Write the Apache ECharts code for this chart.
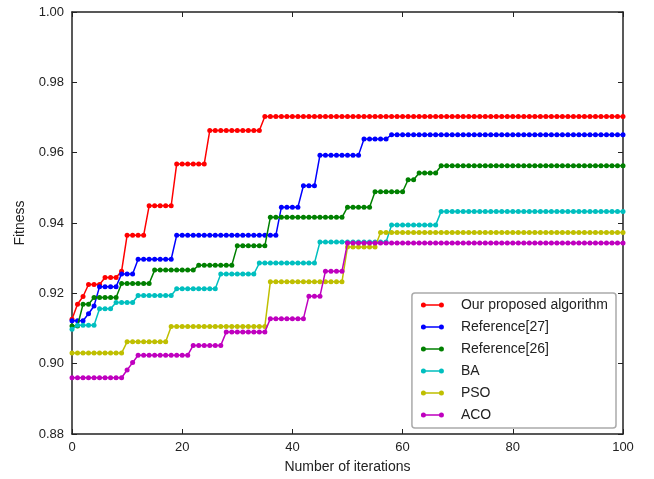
<!DOCTYPE html>
<html>
<head>
<meta charset="utf-8">
<script src="https://cdn.jsdelivr.net/npm/echarts@6/dist/echarts.min.js"></script>
<style>
html,body{margin:0;padding:0;background:#fff;}
#chart{width:654px;height:479px;}
</style>
</head>
<body>
<div id="chart"></div>
<script>
var seriesNames = ['Our proposed algorithm', 'Reference[27]', 'Reference[26]', 'BA', 'PSO', 'ACO'];
var xTicks = [0, 20, 40, 60, 80, 100];
var yTicks = [0.88, 0.90, 0.92, 0.94, 0.96, 0.98, 1.00];

var ours = [
0.9126,0.9169,0.9191,0.9225,0.9225,0.9225,0.9245,0.9245,0.9245,0.9263,
0.9365,0.9365,0.9365,0.9365,0.9449,0.9449,0.9449,0.9449,0.9449,0.9568,
0.9568,0.9568,0.9568,0.9568,0.9568,0.9663,0.9663,0.9663,0.9663,0.9663,
0.9663,0.9663,0.9663,0.9663,0.9663,0.9703,0.9703,0.9703,0.9703,0.9703,
0.9703,0.9703,0.9703,0.9703,0.9703,0.9703,0.9703,0.9703,0.9703,0.9703,
0.9703,0.9703,0.9703,0.9703,0.9703,0.9703,0.9703,0.9703,0.9703,0.9703,
0.9703,0.9703,0.9703,0.9703,0.9703,0.9703,0.9703,0.9703,0.9703,0.9703,
0.9703,0.9703,0.9703,0.9703,0.9703,0.9703,0.9703,0.9703,0.9703,0.9703,
0.9703,0.9703,0.9703,0.9703,0.9703,0.9703,0.9703,0.9703,0.9703,0.9703,
0.9703,0.9703,0.9703,0.9703,0.9703,0.9703,0.9703,0.9703,0.9703,0.9703,
0.9703];

var ref27 = [
0.9122,0.9122,0.9122,0.9142,0.9164,0.9219,0.9219,0.9219,0.9219,0.9255,
0.9255,0.9255,0.9297,0.9297,0.9297,0.9297,0.9297,0.9297,0.9297,0.9365,
0.9365,0.9365,0.9365,0.9365,0.9365,0.9365,0.9365,0.9365,0.9365,0.9365,
0.9365,0.9365,0.9365,0.9365,0.9365,0.9365,0.9365,0.9365,0.9445,0.9445,
0.9445,0.9445,0.9506,0.9506,0.9506,0.9593,0.9593,0.9593,0.9593,0.9593,
0.9593,0.9593,0.9593,0.9639,0.9639,0.9639,0.9639,0.9639,0.9651,0.9651,
0.9651,0.9651,0.9651,0.9651,0.9651,0.9651,0.9651,0.9651,0.9651,0.9651,
0.9651,0.9651,0.9651,0.9651,0.9651,0.9651,0.9651,0.9651,0.9651,0.9651,
0.9651,0.9651,0.9651,0.9651,0.9651,0.9651,0.9651,0.9651,0.9651,0.9651,
0.9651,0.9651,0.9651,0.9651,0.9651,0.9651,0.9651,0.9651,0.9651,0.9651,
0.9651];

var ref26 = [
0.9107,0.9107,0.9169,0.9169,0.9188,0.9188,0.9188,0.9188,0.9188,0.9228,
0.9228,0.9228,0.9228,0.9228,0.9228,0.9266,0.9266,0.9266,0.9266,0.9266,
0.9266,0.9266,0.9266,0.9280,0.9280,0.9280,0.9280,0.9280,0.9280,0.9280,
0.9335,0.9335,0.9335,0.9335,0.9335,0.9335,0.9416,0.9416,0.9416,0.9416,
0.9416,0.9416,0.9416,0.9416,0.9416,0.9416,0.9416,0.9416,0.9416,0.9416,
0.9445,0.9445,0.9445,0.9445,0.9445,0.9489,0.9489,0.9489,0.9489,0.9489,
0.9489,0.9523,0.9523,0.9542,0.9542,0.9542,0.9542,0.9563,0.9563,0.9563,
0.9563,0.9563,0.9563,0.9563,0.9563,0.9563,0.9563,0.9563,0.9563,0.9563,
0.9563,0.9563,0.9563,0.9563,0.9563,0.9563,0.9563,0.9563,0.9563,0.9563,
0.9563,0.9563,0.9563,0.9563,0.9563,0.9563,0.9563,0.9563,0.9563,0.9563,
0.9563];

var ba = [
0.9098,0.9109,0.9109,0.9109,0.9109,0.9156,0.9156,0.9156,0.9174,0.9174,
0.9174,0.9174,0.9194,0.9194,0.9194,0.9194,0.9194,0.9194,0.9194,0.9213,
0.9213,0.9213,0.9213,0.9213,0.9213,0.9213,0.9213,0.9255,0.9255,0.9255,
0.9255,0.9255,0.9255,0.9255,0.9286,0.9286,0.9286,0.9286,0.9286,0.9286,
0.9286,0.9286,0.9286,0.9286,0.9286,0.9346,0.9346,0.9346,0.9346,0.9346,
0.9346,0.9346,0.9346,0.9346,0.9346,0.9346,0.9346,0.9346,0.9394,0.9394,
0.9394,0.9394,0.9394,0.9394,0.9394,0.9394,0.9394,0.9433,0.9433,0.9433,
0.9433,0.9433,0.9433,0.9433,0.9433,0.9433,0.9433,0.9433,0.9433,0.9433,
0.9433,0.9433,0.9433,0.9433,0.9433,0.9433,0.9433,0.9433,0.9433,0.9433,
0.9433,0.9433,0.9433,0.9433,0.9433,0.9433,0.9433,0.9433,0.9433,0.9433,
0.9433];

var pso = [
0.9030,0.9030,0.9030,0.9030,0.9030,0.9030,0.9030,0.9030,0.9030,0.9030,
0.9062,0.9062,0.9062,0.9062,0.9062,0.9062,0.9062,0.9062,0.9106,0.9106,
0.9106,0.9106,0.9106,0.9106,0.9106,0.9106,0.9106,0.9106,0.9106,0.9106,
0.9106,0.9106,0.9106,0.9106,0.9106,0.9106,0.9233,0.9233,0.9233,0.9233,
0.9233,0.9233,0.9233,0.9233,0.9233,0.9233,0.9233,0.9233,0.9233,0.9233,
0.9332,0.9332,0.9332,0.9332,0.9332,0.9332,0.9373,0.9373,0.9373,0.9373,
0.9373,0.9373,0.9373,0.9373,0.9373,0.9373,0.9373,0.9373,0.9373,0.9373,
0.9373,0.9373,0.9373,0.9373,0.9373,0.9373,0.9373,0.9373,0.9373,0.9373,
0.9373,0.9373,0.9373,0.9373,0.9373,0.9373,0.9373,0.9373,0.9373,0.9373,
0.9373,0.9373,0.9373,0.9373,0.9373,0.9373,0.9373,0.9373,0.9373,0.9373,
0.9373];

var aco = [
0.8960,0.8960,0.8960,0.8960,0.8960,0.8960,0.8960,0.8960,0.8960,0.8960,
0.8982,0.9003,0.9024,0.9024,0.9024,0.9024,0.9024,0.9024,0.9024,0.9024,
0.9024,0.9024,0.9052,0.9052,0.9052,0.9052,0.9052,0.9052,0.9090,0.9090,
0.9090,0.9090,0.9090,0.9090,0.9090,0.9090,0.9128,0.9128,0.9128,0.9128,
0.9128,0.9128,0.9128,0.9192,0.9192,0.9192,0.9263,0.9263,0.9263,0.9263,
0.9343,0.9343,0.9343,0.9343,0.9343,0.9343,0.9343,0.9343,0.9343,0.9343,
0.9343,0.9343,0.9343,0.9343,0.9343,0.9343,0.9343,0.9343,0.9343,0.9343,
0.9343,0.9343,0.9343,0.9343,0.9343,0.9343,0.9343,0.9343,0.9343,0.9343,
0.9343,0.9343,0.9343,0.9343,0.9343,0.9343,0.9343,0.9343,0.9343,0.9343,
0.9343,0.9343,0.9343,0.9343,0.9343,0.9343,0.9343,0.9343,0.9343,0.9343,
0.9343];

var allSeries = [ours, ref27, ref26, ba, pso, aco];
var colors = ['#ff0000', '#0000ff', '#008000', '#00bfbf', '#bfbf00', '#bf00bf'];

var FONT = 'Liberation Sans, Arial, sans-serif';
var legendIcon = 'path://M0,2.5A2.5,2.5 0 1,1 5,2.5A2.5,2.5 0 1,1 0,2.5Z M18,2.5A2.5,2.5 0 1,1 23,2.5A2.5,2.5 0 1,1 18,2.5Z M2.5,1.8L20.5,1.8L20.5,3.2L2.5,3.2Z';

function toPairs(arr) {
  return arr.map(function (v, i) { return [i, v]; });
}

var axisLineStyle = { color: '#222', width: 1.5 };

var option = {
  animation: false,
  backgroundColor: '#fff',
  grid: { left: 72, right: 31, top: 12, bottom: 44 },
  xAxis: [{
    type: 'value', min: xTicks[0], max: xTicks[xTicks.length - 1], interval: 20,
    name: 'Number of iterations', nameLocation: 'middle', nameGap: 26,
    nameTextStyle: { fontFamily: FONT, fontSize: 14, color: '#222' },
    axisLine: { show: true, onZero: false, lineStyle: axisLineStyle },
    axisTick: { show: true, inside: true, length: 5, lineStyle: { color: '#222', width: 1 } },
    axisLabel: { show: true, margin: 7, fontFamily: FONT, fontSize: 13, color: '#222', showMinLabel: true, showMaxLabel: true },
    splitLine: { show: false }
  }, {
    type: 'value', position: 'top', min: xTicks[0], max: xTicks[xTicks.length - 1], interval: 20,
    axisLine: { show: true, onZero: false, lineStyle: axisLineStyle },
    axisTick: { show: true, inside: true, length: 5, lineStyle: { color: '#222', width: 1 } },
    axisLabel: { show: false }, splitLine: { show: false }
  }],
  yAxis: [{
    type: 'value', min: yTicks[0], max: yTicks[yTicks.length - 1], interval: 0.02,
    name: 'Fitness', nameLocation: 'middle', nameGap: 45,
    nameTextStyle: { fontFamily: FONT, fontSize: 14, color: '#222' },
    axisLine: { show: true, onZero: false, lineStyle: axisLineStyle },
    axisTick: { show: true, inside: true, length: 5, lineStyle: { color: '#222', width: 1 } },
    axisLabel: { show: true, margin: 8, fontFamily: FONT, fontSize: 13, color: '#222',
      showMinLabel: true, showMaxLabel: true,
      formatter: function (v) { return v.toFixed(2); } },
    splitLine: { show: false }
  }, {
    type: 'value', position: 'right', min: yTicks[0], max: yTicks[yTicks.length - 1], interval: 0.02,
    axisLine: { show: true, onZero: false, lineStyle: axisLineStyle },
    axisTick: { show: true, inside: true, length: 5, lineStyle: { color: '#222', width: 1 } },
    axisLabel: { show: false }, splitLine: { show: false }
  }],
  legend: {
    orient: 'vertical', right: 38, bottom: 51,
    padding: [5, 8, 6, 9],
    backgroundColor: '#fff',
    borderColor: '#aaa', borderWidth: 1.5, borderRadius: 3,
    itemWidth: 23, itemHeight: 5, itemGap: 8,
    textStyle: { fontFamily: FONT, fontSize: 14, color: '#222', padding: [0, 0, 0, 12] },
    icon: legendIcon,
    data: seriesNames
  },
  series: allSeries.map(function (arr, k) {
    return {
      name: seriesNames[k], type: 'line', xAxisIndex: 0, yAxisIndex: 0,
      data: toPairs(arr),
      symbol: 'circle', symbolSize: 5, showSymbol: true,
      lineStyle: { color: colors[k], width: 1.5 },
      itemStyle: { color: colors[k] },
      z: 2 + k
    };
  })
};

var chart = echarts.init(document.getElementById('chart'), null, { renderer: 'canvas' });
chart.setOption(option);
</script>
</body>
</html>
